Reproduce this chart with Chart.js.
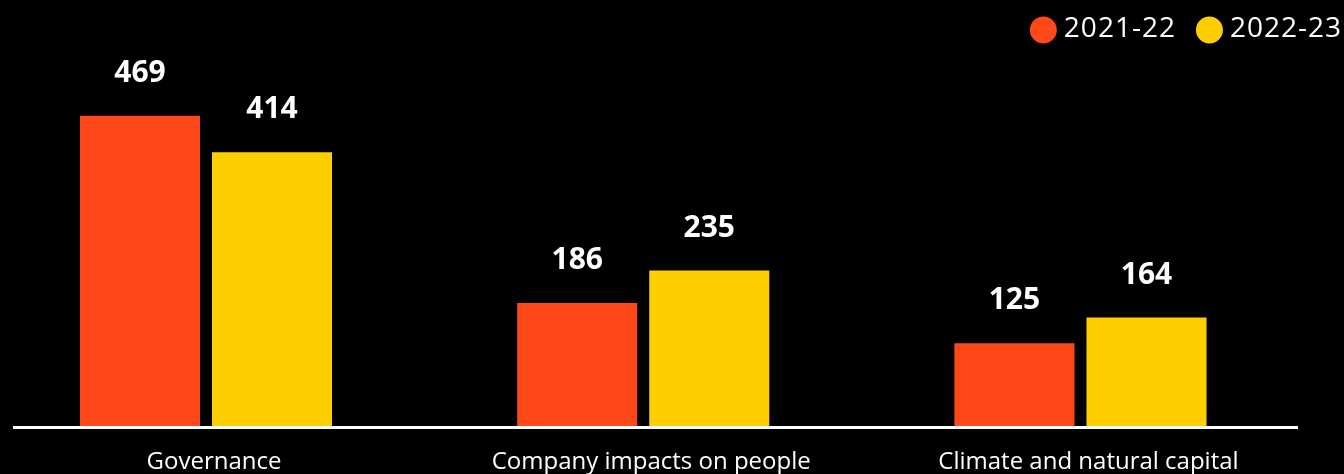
<!DOCTYPE html>
<html>
<head>
<meta charset="utf-8">
<script src="https://cdn.jsdelivr.net/npm/chart.js@4"></script>
<style>
  html, body { margin: 0; padding: 0; background: #000; overflow: hidden; }
  #wrap { position: relative; width: 1344px; height: 478px; }
</style>
</head>
<body>
<div id="wrap"><canvas id="engagementChart"></canvas></div>
<script>
const categories = ['Governance', 'Company impacts on people', 'Climate and natural capital'];
const seriesNames = ['2021-22', '2022-23'];
const values2122 = [469, 186, 125];
const values2223 = [414, 235, 164];
const seriesColors = ['#ff4817', '#ffce00'];

// bars sit on a numeric index axis so the groups can be placed freely
const toPoints = vals => vals.map((v, i) => ({ x: i, y: v }));

// bold value above each bar
const valueLabels = {
  id: 'valueLabels',
  afterDatasetsDraw(chart) {
    const ctx = chart.ctx;
    ctx.save();
    ctx.fillStyle = '#fff';
    ctx.font = "bold 30px 'Open Sans'";
    ctx.textAlign = 'center';
    ctx.textBaseline = 'alphabetic';
    chart.data.datasets.forEach((ds, i) => {
      chart.getDatasetMeta(i).data.forEach((bar, j) => {
        ctx.fillText(ds.data[j].y, bar.x, bar.y - 34);
      });
    });
    ctx.restore();
  }
};

// white rule along the zero line
const baseLine = {
  id: 'baseLine',
  afterDatasetsDraw(chart) {
    const ctx = chart.ctx;
    const y = chart.scales.y.getPixelForValue(0) + 1.5;
    ctx.save();
    ctx.strokeStyle = '#fff';
    ctx.lineWidth = 3;
    ctx.beginPath();
    ctx.moveTo(chart.chartArea.left + 13, y);
    ctx.lineTo(chart.chartArea.right - 46, y);
    ctx.stroke();
    ctx.restore();
  }
};

// dot legend in the top-right corner, laid out right to left
const dotLegend = {
  id: 'dotLegend',
  afterDraw(chart) {
    const ctx = chart.ctx;
    const r = 13.5;
    let x = chart.width - 2;
    ctx.save();
    ctx.font = "28px 'Open Sans'";
    ctx.letterSpacing = '1px';
    ctx.textBaseline = 'alphabetic';
    ctx.textAlign = 'left';
    chart.data.datasets.slice().reverse().forEach(ds => {
      const tw = ctx.measureText(ds.label).width;
      const textLeft = x - tw;
      ctx.fillStyle = '#fff';
      ctx.fillText(ds.label, textLeft, 37);
      ctx.fillStyle = ds.backgroundColor;
      ctx.beginPath();
      ctx.arc(textLeft - 7 - r, 30, r, 0, Math.PI * 2);
      ctx.fill();
      x = textLeft - 7 - 2 * r - 20;
    });
    ctx.restore();
  }
};

Chart.defaults.font.family = "'Open Sans', sans-serif";
Chart.defaults.color = '#fff';

const ctx = document.getElementById('engagementChart').getContext('2d');
new Chart(ctx, {
  type: 'bar',
  data: {
    datasets: [
      {
        label: seriesNames[0],
        data: toPoints(values2122),
        backgroundColor: seriesColors[0],
      },
      {
        label: seriesNames[1],
        data: toPoints(values2223),
        backgroundColor: seriesColors[1],
      },
    ],
  },
  options: {
    responsive: true,
    maintainAspectRatio: false,
    animation: false,
    categoryPercentage: 0.604,
    barPercentage: 0.909,
    layout: { padding: 0 },
    plugins: {
      legend: { display: false },
      tooltip: { enabled: false },
    },
    scales: {
      x: {
        type: 'linear',
        offset: false,
        min: -0.4711,
        max: 2.6027,
        grid: { display: false, drawTicks: false },
        border: { display: false },
        afterBuildTicks: scale => {
          scale.ticks = categories.map((c, i) => ({ value: i }));
        },
        afterFit: scale => {
          scale.height = 52;
        },
        ticks: {
          autoSkip: false,
          maxRotation: 0,
          padding: 22,
          labelOffset: 8,
          font: { size: 24 },
          color: '#fff',
          callback: value => categories[value],
        },
      },
      y: {
        display: false,
        min: 0,
        max: 644,
      },
    },
  },
  plugins: [valueLabels, baseLine, dotLegend],
});
</script>
</body>
</html>
